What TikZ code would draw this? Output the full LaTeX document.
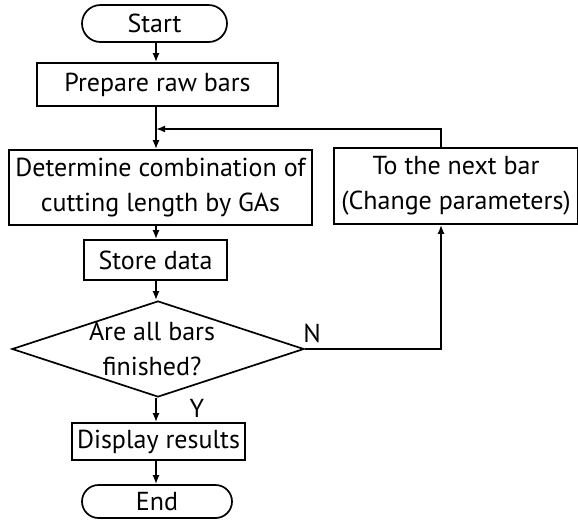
\documentclass[tikz,border=0pt]{standalone}
\usepackage{fontspec}
\setmainfont{PT Sans}
\usetikzlibrary{shapes.geometric,shapes.misc,arrows.meta}

\begin{document}
\begin{tikzpicture}[x=1pt,y=-1pt,
		every node/.style={font=\fontsize{26}{35}\selectfont},
		box/.style={draw,line width=1.7pt,inner sep=0pt,align=center},
		term/.style={draw,line width=1.7pt,rounded rectangle,inner sep=0pt},
		decision/.style={draw,line width=1.7pt,diamond,inner sep=0pt},
		flow/.style={line width=1.7pt,-{Latex[length=9pt,width=7pt]}}]
			\useasboundingbox (0,0) rectangle (578,523);
			\coordinate (col) at (156,0);
			\coordinate (back) at (441,129);

			% main column
			\node[term,minimum width=145pt,minimum height=37pt] (start) at (154.5,23.5) {Start};
			\node[box,minimum width=241pt,minimum height=43pt] (prep) at (157.5,84.5) {Prepare raw bars};
			\node[box,minimum width=303pt,minimum height=75pt] (ga) at (160.5,187.5) {Determine combination of\\cutting length by GAs};
			\node[box,minimum width=143pt,minimum height=40pt] (store) at (155.5,260) {Store data};
			\node[decision,minimum width=292pt,minimum height=96pt] (check) at (158,349) {};
			\node[align=center] (checktext) at (152,349) {Are all bars\\finished?};
			\node[box,minimum width=173pt,minimum height=37pt] (show) at (158.5,441.5) {Display results};
			\node[term,minimum width=150pt,minimum height=33pt] (stop) at (157,501.5) {End};

			% side box
			\node[box,minimum width=244pt,minimum height=76pt] (next) at (456,186) {To the next bar\\(Change parameters)};

			\node (no) at (312,333) {N};
			\node (yes) at (197,408) {Y};

			\draw[flow] (start.south -| col) -- (prep.north -| col);
			\draw[flow] (prep.south -| col) -- (ga.north -| col);
			\draw[flow] (ga.south -| col) -- (store.north -| col);
			\draw[flow] (store.south -| col) -- (check.north -| col);
			\draw[flow] (check.south -| col) -- (show.north -| col);
			\draw[flow] (show.south -| col) -- (stop.north -| col);

			\draw[flow] (check.east) -| (next.south -| back);
			\draw[flow] (next.north -| back) -- (back) -- (back -| col);
\end{tikzpicture}
\end{document}
